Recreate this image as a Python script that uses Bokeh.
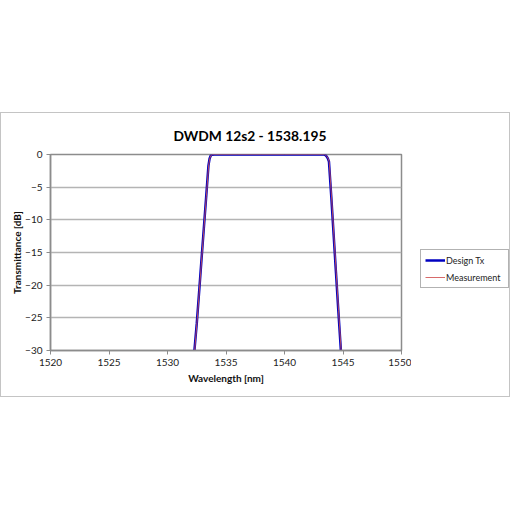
from bokeh.plotting import figure
from bokeh.layouts import column, row
from bokeh.models import Spacer, Legend, LegendItem, FixedTicker, Range1d
from bokeh.embed import file_html
from bokeh.resources import INLINE

# Data
design_wl = [1532.30, 1532.50, 1532.70, 1532.90, 1533.10, 1533.30, 1533.50, 1533.60,
             1533.70, 1533.80, 1534.00, 1536.00, 1538.00, 1540.00, 1542.00, 1543.30,
             1543.40, 1543.50, 1543.60, 1543.70, 1543.80, 1544.00, 1544.20, 1544.40,
             1544.60, 1544.82]
design_db = [-30.0, -25.9, -21.1, -16.2, -11.4, -6.6, -1.7, -0.6,
             -0.15, -0.02, 0.0, 0.0, 0.0, 0.0, 0.0, 0.0,
             -0.02, -0.1, -0.3, -0.6, -1.1, -6.5, -12.3, -18.1,
             -23.9, -30.0]
meas_wl = [1532.32, 1532.52, 1532.72, 1532.92, 1533.12, 1533.32, 1533.52, 1533.62,
           1533.72, 1533.82, 1534.00, 1536.00, 1538.00, 1540.00, 1542.00, 1543.30,
           1543.42, 1543.52, 1543.62, 1543.72, 1543.82, 1544.02, 1544.22, 1544.42,
           1544.62, 1544.84]
meas_db = [-30.0, -25.7, -20.9, -16.0, -11.2, -6.4, -1.6, -0.55,
           -0.12, -0.02, 0.0, 0.0, 0.0, 0.0, 0.0, 0.0,
           -0.02, -0.1, -0.3, -0.6, -1.1, -6.5, -12.3, -18.1,
           -23.9, -30.0]
x_ticks = [1520, 1525, 1530, 1535, 1540, 1545, 1550]
y_ticks = [0, -5, -10, -15, -20, -25, -30]

title_text = "DWDM 12s2 - 1538.195"
x_label = "Wavelength [nm]"
y_label = "Transmittance [dB]"
series_names = ["Design Tx", "Measurement"]

FONT = "Lato"
DESIGN_COLOR = "#0000c0"
MEAS_COLOR = "#d05050"

p = figure(width=410, height=283, output_backend="svg", toolbar_location=None,
           x_range=Range1d(1520, 1550), y_range=Range1d(-30, 0),
           min_border_left=49, min_border_right=10, min_border_top=40,
           min_border_bottom=46)

p.title.text = title_text
p.title.align = "left"
p.title.text_font = FONT
p.title.text_font_size = "13.8px"
p.title.text_font_style = "bold"
p.title.text_color = "#000000"
p.title.offset = 123
p.title.standoff = 22

p.outline_line_color = "#8c8c8c"
p.outline_line_width = 1.5
p.xgrid.grid_line_color = None
p.ygrid.grid_line_color = "#b4b4b4"
p.ygrid.grid_line_width = 1.5
p.ygrid.ticker = FixedTicker(ticks=y_ticks)

for ax, ticks in ((p.xaxis, x_ticks), (p.yaxis, y_ticks)):
    ax.ticker = FixedTicker(ticks=ticks)
    ax.axis_line_color = "#8c8c8c"
    ax.axis_line_width = 1.5
    ax.major_tick_line_color = "#8c8c8c"
    ax.major_tick_out = 4
    ax.major_tick_in = 0
    ax.minor_tick_line_color = None
    ax.major_label_text_font = FONT
    ax.major_label_text_font_size = "10px"
    ax.major_label_text_color = "#222222"
    ax.axis_label_text_font = FONT
    ax.axis_label_text_font_size = "10px"
    ax.axis_label_text_font_style = "bold"
    ax.axis_label_text_color = "#111111"

p.xaxis.axis_label = x_label
p.yaxis.axis_label = y_label
p.xaxis.major_label_standoff = 4
p.xaxis.axis_label_standoff = 3
p.yaxis.major_label_standoff = 4
p.yaxis.axis_label_standoff = -1

p.line(design_wl, design_db, line_color=DESIGN_COLOR, line_width=2.5)
p.line(meas_wl, meas_db, line_color=MEAS_COLOR, line_width=1, line_alpha=0.85)

# Separate panel holding the legend (outside the plotting frame); the series
# are plotted here too but lie outside this panel's visible range.
lf = figure(width=98, height=283, output_backend="svg", toolbar_location=None,
            min_border=0, x_range=Range1d(0, 1), y_range=Range1d(0, 1))
lf.axis.visible = False
lf.grid.grid_line_color = None
lf.outline_line_color = None
k1 = lf.line(design_wl, design_db, line_color=DESIGN_COLOR, line_width=2.5)
k2 = lf.line(meas_wl, meas_db, line_color=MEAS_COLOR, line_width=1, line_alpha=0.85)

legend = Legend(items=[LegendItem(label=series_names[0], renderers=[k1]),
                       LegendItem(label=series_names[1], renderers=[k2])],
                location=(9, 62))
legend.border_line_color = "#666666"
legend.border_line_width = 1.2
legend.background_fill_color = "white"
legend.label_text_font = FONT
legend.label_text_font_size = "9px"
legend.label_text_color = "#222222"
legend.glyph_width = 20
legend.glyph_height = 12
legend.label_height = 12
legend.label_width = 58
legend.spacing = 5
legend.padding = 4
legend.margin = 0
legend.label_standoff = 1
lf.add_layout(legend, "center")

chart = row(p, lf, styles={"border": "1px solid #c4c4c4"})
layout = column(Spacer(width=508, height=112), chart)

open("out.html", "w").write(file_html(layout, INLINE))
